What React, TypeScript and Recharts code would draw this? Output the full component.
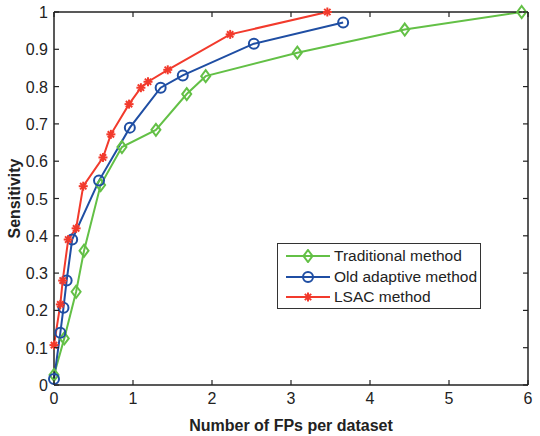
import React from 'react'
import { LineChart, Line, XAxis, YAxis } from 'recharts'

const xTicks = [0, 1, 2, 3, 4, 5, 6]
const yTicks = [0, 0.1, 0.2, 0.3, 0.4, 0.5, 0.6, 0.7, 0.8, 0.9, 1]

const tradFP = [0, 0.13, 0.28, 0.38, 0.59, 0.86, 1.29, 1.68, 1.92, 3.08, 4.44, 5.92]
const tradSens = [0.027, 0.125, 0.25, 0.36, 0.536, 0.638, 0.684, 0.78, 0.828, 0.891, 0.953, 1.0]

const oldFP = [0, 0.08, 0.12, 0.16, 0.23, 0.57, 0.96, 1.35, 1.63, 2.53, 3.66]
const oldSens = [0.016, 0.14, 0.207, 0.28, 0.39, 0.548, 0.69, 0.797, 0.83, 0.915, 0.972]

const lsacFP = [0, 0.08, 0.11, 0.18, 0.28, 0.37, 0.62, 0.72, 0.95, 1.1, 1.19, 1.44, 2.23, 3.46]
const lsacSens = [0.107, 0.216, 0.28, 0.39, 0.42, 0.533, 0.61, 0.672, 0.753, 0.797, 0.813, 0.845, 0.94, 1.0]

const GREEN = '#63c046'
const BLUE = '#1f4ea3'
const RED = '#f23a2c'
const INK = '#222'
const FONT = '"Liberation Sans", Arial, sans-serif'
const TICK_LEN = 5

const toRows = (xs: number[], ys: number[]) => xs.map((x, i) => ({ x, y: ys[i] }))

const series = [
  { name: 'Traditional method', color: GREEN, marker: 'diamond', data: toRows(tradFP, tradSens) },
  { name: 'Old adaptive method', color: BLUE, marker: 'circle', data: toRows(oldFP, oldSens) },
  { name: 'LSAC method', color: RED, marker: 'star', data: toRows(lsacFP, lsacSens) },
]

function Marker({ kind, cx, cy, color }: { kind: string; cx: number; cy: number; color: string }) {
  if (kind === 'diamond') {
    const r = 6
    return (
      <polygon
        points={`${cx},${cy - r} ${cx + r * 0.75},${cy} ${cx},${cy + r} ${cx - r * 0.75},${cy}`}
        fill="none"
        stroke={color}
        strokeWidth={2}
      />
    )
  }
  if (kind === 'circle') {
    return <circle cx={cx} cy={cy} r={5} fill="none" stroke={color} strokeWidth={2} />
  }
  const r = 4.5
  const d = r * 0.7
  return (
    <g stroke={color} strokeWidth={2}>
      <line x1={cx - r} y1={cy} x2={cx + r} y2={cy} />
      <line x1={cx} y1={cy - r} x2={cx} y2={cy + r} />
      <line x1={cx - d} y1={cy - d} x2={cx + d} y2={cy + d} />
      <line x1={cx - d} y1={cy + d} x2={cx + d} y2={cy - d} />
    </g>
  )
}

const makeDot = (kind: string, color: string) => (props: any) => {
  const { cx, cy, index } = props
  if (cx == null || cy == null) return <g key={index} />
  return <Marker key={index} kind={kind} cx={cx} cy={cy} color={color} />
}

const fmtY = (v: number) => (v === 0 || v === 1 ? String(v) : v.toFixed(1))

const tickText = { fill: INK, fontSize: 16, fontFamily: FONT }
const axisTitle = { fill: INK, fontSize: 16, fontWeight: 700, fontFamily: FONT }

// MATLAB-style ticks: marks point into the plot box
const BottomTick = ({ x, y, payload }: any) => (
  <g>
    <line x1={x} y1={y} x2={x} y2={y - TICK_LEN} stroke={INK} strokeWidth={1.2} />
    <text x={x} y={y + 19} textAnchor="middle" style={tickText}>{payload.value}</text>
  </g>
)
const LeftTick = ({ x, y, payload }: any) => (
  <g>
    <line x1={x} y1={y} x2={x + TICK_LEN} y2={y} stroke={INK} strokeWidth={1.2} />
    <text x={x - 6} y={y + 6} textAnchor="end" style={tickText}>{fmtY(payload.value)}</text>
  </g>
)
const TopTick = ({ x, y }: any) => (
  <line x1={x} y1={y} x2={x} y2={y + TICK_LEN} stroke={INK} strokeWidth={1.2} />
)
const RightTick = ({ x, y }: any) => (
  <line x1={x} y1={y} x2={x - TICK_LEN} y2={y} stroke={INK} strokeWidth={1.2} />
)

function LegendBox() {
  return (
    <div
      style={{
        position: 'absolute',
        left: 277,
        top: 243,
        width: 204,
        height: 66,
        border: '1.5px solid #333',
        background: '#fff',
        fontFamily: FONT,
        fontSize: 15.5,
        color: INK,
        boxSizing: 'border-box',
        paddingTop: 2,
      }}
    >
      {series.map((s) => (
        <div key={s.name} style={{ display: 'flex', alignItems: 'center', height: 20.5 }}>
          <svg width={54} height={14} style={{ flexShrink: 0 }}>
            <line x1={8} y1={7} x2={52} y2={7} stroke={s.color} strokeWidth={2} />
            <Marker kind={s.marker} cx={30} cy={7} color={s.color} />
          </svg>
          <span style={{ marginLeft: 2 }}>{s.name}</span>
        </div>
      ))}
    </div>
  )
}

export default function App() {
  return (
    <div style={{ position: 'absolute', left: 0, top: 0, width: 540, height: 436, background: '#fff' }}>
      <LineChart width={540} height={436} margin={{ top: 11, right: 11, bottom: 0, left: 0 }}>
        <XAxis
          dataKey="x"
          type="number"
          domain={[0, 6]}
          ticks={xTicks}
          height={51}
          tickSize={0}
          tickMargin={0}
          tickLine={false}
          stroke={INK}
          strokeWidth={1.5}
          tick={<BottomTick />}
          label={{
            content: ({ viewBox }: any) => (
              <text x={viewBox.x + viewBox.width / 2} y={431} textAnchor="middle" style={axisTitle}>
                Number of FPs per dataset
              </text>
            ),
          }}
        />
        <XAxis
          xAxisId="top"
          dataKey="x"
          orientation="top"
          type="number"
          domain={[0, 6]}
          ticks={xTicks}
          height={1}
          tickSize={0}
          tickMargin={0}
          tickLine={false}
          stroke={INK}
          strokeWidth={1.5}
          tick={<TopTick />}
        />
        <YAxis
          type="number"
          domain={[0, 1]}
          ticks={yTicks}
          width={54}
          tickSize={0}
          tickMargin={0}
          tickLine={false}
          stroke={INK}
          strokeWidth={1.5}
          tick={<LeftTick />}
          label={{
            content: ({ viewBox }: any) => {
              const cy = viewBox.y + viewBox.height / 2
              return (
                <text x={20} y={cy} transform={`rotate(-90 20 ${cy})`} textAnchor="middle" style={axisTitle}>
                  Sensitivity
                </text>
              )
            },
          }}
        />
        <YAxis
          yAxisId="right"
          orientation="right"
          type="number"
          domain={[0, 1]}
          ticks={yTicks}
          width={1}
          tickSize={0}
          tickMargin={0}
          tickLine={false}
          stroke={INK}
          strokeWidth={1.5}
          tick={<RightTick />}
        />
        {/* invisible series that binds the top and right frame axes */}
        <Line
          xAxisId="top"
          yAxisId="right"
          data={series[0].data}
          dataKey="y"
          stroke="none"
          dot={false}
          activeDot={false}
          legendType="none"
          isAnimationActive={false}
        />
        {series.map((s) => (
          <Line
            key={s.name}
            data={s.data}
            dataKey="y"
            name={s.name}
            stroke={s.color}
            strokeWidth={2}
            dot={makeDot(s.marker, s.color)}
            activeDot={false}
            isAnimationActive={false}
          />
        ))}
      </LineChart>
      <LegendBox />
    </div>
  )
}
